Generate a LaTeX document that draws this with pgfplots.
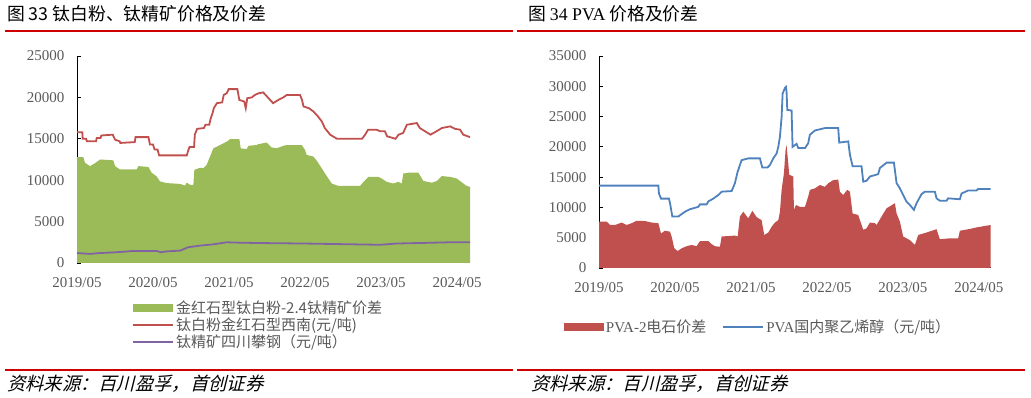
\documentclass[border=0pt]{standalone}
\usepackage{pgfplots}
\pgfplotsset{compat=1.18}
\usepackage{fontspec}
\setmainfont{Liberation Serif}
\newfontfamily\cjk{Noto Sans CJK SC}
\newfontfamily\cjkit{Noto Sans CJK SC}[FakeSlant=0.25]
\definecolor{tigreen}{HTML}{9BBB59}
\definecolor{tired}{HTML}{C0504D}
\definecolor{tipurple}{HTML}{8064A2}
\definecolor{tiblue}{HTML}{4F81BD}
\definecolor{rulered}{HTML}{D00000}
\definecolor{tickgray}{HTML}{595959}
\pgfplotsset{
  mystyle/.style={
    scale only axis,
    axis x line=bottom, axis y line=left,
    axis line style={-, black, line width=1pt},
    tick align=inside, major tick length=4pt,
    tick style={black, line width=0.8pt},
    xmin=0, ymin=0,
    xtick={0,1,2,3,4,5},
    xticklabels={2019/05,2020/05,2021/05,2022/05,2023/05,2024/05},
    tick label style={font=\fontsize{15}{15}\selectfont, text=tickgray},
    yticklabel style={xshift=-9pt},
    xticklabel style={yshift=-11pt},
    scaled y ticks=false,
    /pgf/number format/assume math mode=true,
    /pgf/number format/1000 sep={},
    legend cell align=left,
  },
  areaimg/.style={legend image code/.code={\fill[##1] (0pt,-4pt) rectangle (40pt,4pt);}},
  lineimg/.style={legend image code/.code={\draw[##1] (0pt,0pt) -- (40pt,0pt);}},
}
\begin{document}
\begin{tikzpicture}[x=1pt,y=1pt]
\useasboundingbox (0,0) rectangle (1031,398);
% titles
\node[anchor=west, inner sep=0] at (7,384) {\fontsize{17.8}{18}\selectfont\cjk 图 33 钛白粉、钛精矿价格及价差};
\node[anchor=west, inner sep=0] at (528,384) {\fontsize{17.8}{18}\selectfont\cjk 图 {\rmfamily 34 PVA} 价格及价差};
\draw[rulered, line width=1.5pt] (5,367) -- (513,367);
\draw[rulered, line width=1.5pt] (517,367) -- (1025,367);
\draw[rulered, line width=1.5pt] (5,28) -- (513,28);
\draw[rulered, line width=1.5pt] (517,28) -- (1025,28);
\node[anchor=west, inner sep=0] at (7,14) {\fontsize{18.3}{18}\selectfont\cjkit 资料来源：百川盈孚，首创证券};
\node[anchor=west, inner sep=0] at (531,14) {\fontsize{18.3}{18}\selectfont\cjkit 资料来源：百川盈孚，首创证券};

\begin{axis}[mystyle,
  at={(77pt,135pt)}, anchor=south west,
  width=393pt, height=207pt,
  xmax=5.17, ymax=25000,
  ytick={0,5000,10000,15000,20000,25000},
  legend style={draw=none, fill=none, at={(axis description cs:0.14,-0.17)}, anchor=north west,
    font=\fontsize{15}{15}\selectfont\cjk, text=tickgray, row sep=-1pt, inner sep=0pt},
]
\addplot[fill=tigreen, draw=none, areaimg] coordinates {
(0,12800) (0.083,12800) (0.105,12100) (0.171,11700) (0.237,12050) (0.303,12500) (0.478,12400) (0.5,11700) (0.566,11300) (0.785,11300) (0.807,11700) (0.939,11600) (0.982,10900) (1.048,10450) (1.092,9850) (1.18,9650) (1.355,9550) (1.421,9350) (1.443,9700) (1.487,9450) (1.531,9450) (1.544,11250) (1.618,11500) (1.662,11450) (1.706,11850) (1.741,12650) (1.794,13850) (1.882,14250) (1.969,14650) (2.013,14950) (2.136,14950) (2.154,13850) (2.232,13750) (2.254,14150) (2.364,14250) (2.386,14350) (2.496,14550) (2.561,13950) (2.627,13850) (2.715,14150) (2.759,14250) (2.956,14250) (3.0,13650) (3.022,13050) (3.11,12850) (3.154,12350) (3.219,11450) (3.263,10800) (3.351,9600) (3.439,9300) (3.724,9300) (3.768,9800) (3.833,10400) (3.965,10400) (4.009,10200) (4.074,9800) (4.162,9600) (4.228,9800) (4.272,9600) (4.292,10800) (4.359,10900) (4.491,10900) (4.557,9900) (4.667,9700) (4.733,9900) (4.798,10500) (4.908,10400) (4.996,10200) (5.083,9600) (5.127,9300) (5.17,9200)
} \closedcycle;
\addlegendentry{金红石型钛白粉-2.4钛精矿价差}
\addplot[tired, line width=1.8pt, lineimg] coordinates {
(0,15800) (0.07,15800) (0.075,15000) (0.12,15000) (0.13,14700) (0.25,14700) (0.26,15100) (0.31,15100) (0.32,15400) (0.47,15500) (0.5,14900) (0.56,14700) (0.57,14500) (0.76,14600) (0.77,15200) (0.94,15200) (0.96,14300) (1.0,14300) (1.02,13700) (1.06,13700) (1.08,13000) (1.445,13000) (1.46,13500) (1.48,14000) (1.54,14000) (1.55,15500) (1.58,16200) (1.67,16300) (1.69,16700) (1.74,16700) (1.76,17500) (1.78,18000) (1.8,18700) (1.84,19300) (1.91,19400) (1.93,20300) (1.97,20500) (1.995,21000) (2.11,21000) (2.135,19700) (2.2,19500) (2.22,18700) (2.24,19900) (2.3,20000) (2.34,20300) (2.39,20500) (2.45,20600) (2.50,20100) (2.58,19300) (2.65,19700) (2.715,20000) (2.76,20300) (2.934,20300) (2.96,19700) (2.98,18900) (3.05,18700) (3.11,18300) (3.17,17700) (3.22,17100) (3.26,16300) (3.33,15500) (3.42,15000) (3.75,15000) (3.79,15500) (3.83,16100) (3.94,16100) (3.99,15900) (4.05,15900) (4.08,15300) (4.19,15000) (4.23,15500) (4.29,15700) (4.34,16700) (4.47,16900) (4.51,16300) (4.58,15900) (4.65,15500) (4.71,15800) (4.80,16300) (4.91,16500) (4.975,16200) (5.04,16100) (5.08,15500) (5.17,15200)
};
\addlegendentry{钛白粉金红石型西南(元/吨)}
\addplot[tipurple, line width=1.8pt, lineimg] coordinates {
(0,1200) (0.17,1100) (0.3,1200) (0.52,1300) (0.74,1450) (1.05,1450) (1.1,1300) (1.18,1400) (1.36,1500) (1.46,1900) (1.62,2100) (1.79,2250) (1.97,2500) (2.15,2450) (2.5,2400) (3.0,2350) (3.99,2200) (4.2,2350) (4.9,2500) (5.17,2500)
};
\addlegendentry{钛精矿四川攀钢（元/吨）}
\end{axis}

\begin{axis}[mystyle,
  at={(599pt,130pt)}, anchor=south west,
  width=392pt, height=212pt,
  xmax=5.16, ymax=35000,
  ytick={0,5000,10000,15000,20000,25000,30000,35000},
  legend columns=2,
  legend style={draw=none, fill=none, at={(axis description cs:-0.09,-0.235)}, anchor=north west,
    font=\fontsize{15}{15}\selectfont\cjk, text=tickgray, inner sep=0pt,
    /tikz/every even column/.append style={column sep=14pt}},
]
\addplot[fill=tired, draw=none, areaimg] coordinates {
(0,7650) (0.101,7650) (0.145,7100) (0.211,7100) (0.298,7500) (0.364,7100) (0.43,7400) (0.496,7800) (0.605,7750) (0.693,7500) (0.781,7400) (0.816,5700) (0.868,6150) (0.934,6000) (0.956,5200) (0.991,3250) (1.035,2800) (1.088,3250) (1.154,3600) (1.219,3800) (1.285,3600) (1.329,4450) (1.439,4450) (1.482,3950) (1.526,3600) (1.592,3500) (1.614,5200) (1.789,5350) (1.825,5200) (1.855,8500) (1.899,9300) (1.965,8200) (2.018,9450) (2.075,8400) (2.14,7900) (2.175,5450) (2.228,5850) (2.272,6800) (2.316,7500) (2.36,7900) (2.382,9300) (2.404,12900) (2.434,15600) (2.456,19500) (2.469,20300) (2.491,17300) (2.504,15400) (2.557,15100) (2.566,9600) (2.592,10400) (2.645,10100) (2.711,10100) (2.754,11800) (2.776,12900) (2.842,13150) (2.908,13700) (2.974,13400) (3.018,14000) (3.083,14500) (3.149,14600) (3.171,12600) (3.215,12050) (3.268,12900) (3.303,12600) (3.338,9000) (3.412,8750) (3.478,6300) (3.522,6550) (3.566,7500) (3.632,7400) (3.654,7100) (3.719,8500) (3.785,9850) (3.895,10700) (3.917,9000) (3.961,7650) (4.004,5200) (4.092,4600) (4.158,3800) (4.202,5450) (4.268,5700) (4.311,5850) (4.443,6400) (4.487,4750) (4.618,4900) (4.728,4900) (4.75,6150) (4.882,6450) (4.969,6700) (5.154,7100)
} \closedcycle;
\addlegendentry{{\rmfamily PVA-2}电石价差}
\addplot[tiblue, line width=1.8pt, lineimg] coordinates {
(0,13600) (0.781,13600) (0.789,12300) (0.816,11450) (0.921,11450) (0.939,10400) (0.965,8500) (1.044,8500) (1.088,8900) (1.132,9300) (1.197,9700) (1.307,10100) (1.329,10500) (1.417,10500) (1.439,11000) (1.504,11450) (1.57,12050) (1.614,12600) (1.746,12700) (1.789,14000) (1.825,15900) (1.877,17800) (1.965,18100) (2.118,18100) (2.149,16600) (2.219,16600) (2.25,17000) (2.294,18100) (2.338,18900) (2.36,20000) (2.382,21700) (2.404,25000) (2.417,28800) (2.447,29700) (2.461,29900) (2.469,29100) (2.478,26100) (2.535,26000) (2.548,20000) (2.601,20500) (2.623,19800) (2.711,19800) (2.754,20600) (2.776,22000) (2.842,22700) (2.974,23100) (3.149,23100) (3.162,20700) (3.281,20900) (3.303,18700) (3.338,16800) (3.456,16800) (3.478,14250) (3.522,14400) (3.566,15100) (3.675,15500) (3.697,16500) (3.785,17400) (3.882,17400) (3.917,14000) (3.961,13150) (4.004,12050) (4.048,10950) (4.092,10400) (4.145,9600) (4.18,10700) (4.246,12200) (4.289,12600) (4.421,12600) (4.443,11500) (4.487,11100) (4.575,11100) (4.596,11500) (4.75,11350) (4.772,12300) (4.86,12800) (4.969,12800) (4.991,13050) (5.154,13050)
};
\addlegendentry{{\rmfamily PVA}国内聚乙烯醇（元/吨）}
\end{axis}
\end{tikzpicture}
\end{document}
